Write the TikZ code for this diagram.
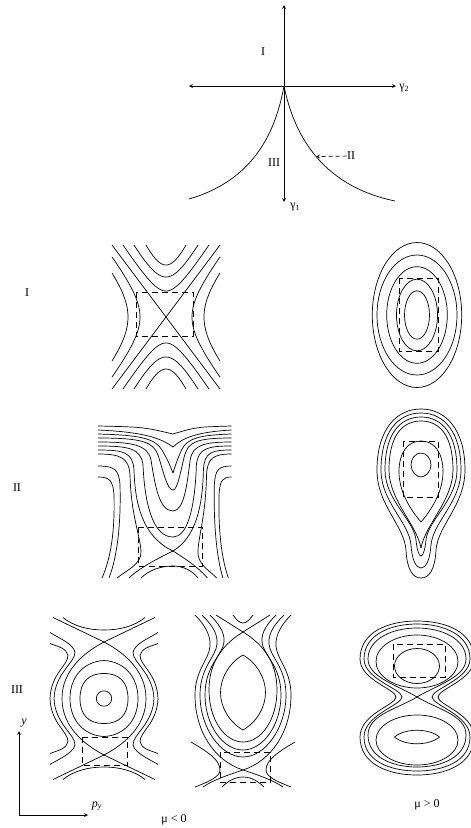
\documentclass[tikz,border=0pt]{standalone}
\usepackage{fontspec}
\setmainfont{Liberation Serif}
\begin{document}
\begin{tikzpicture}[x=1pt,y=-1pt,>=stealth,line width=0.7pt,
  box/.style={line width=0.7pt,dash pattern=on 6pt off 4pt},
  lab/.style={inner sep=0pt,font=\fontsize{12}{14}\selectfont}]
  \useasboundingbox (0,0) rectangle (471,828);
  % parameter plane
  \coordinate (g1a) at (284,5);
  \coordinate (g1b) at (284,202);
  \coordinate (g2a) at (189,86);
  \coordinate (g2b) at (396,86);
  \coordinate (o) at (284,86);
  \draw[<->] (g1a) -- (g1b);
  \draw[<->] (g2a) -- (g2b);
  \draw (o) .. controls (276,130) and (255,180) .. (189,199);
  \draw (o) .. controls (293,130) and (318,185) .. (395,201) coordinate[pos=0.52] (cusp);
  \node[lab,anchor=west] (g2) at (399,88) {γ\textsubscript{2}};
  \node[lab,anchor=north west] (g1) at (290,203) {γ\textsubscript{1}};
  \node[lab] (regI) at (263,52) {I};
  \node[lab] (regIII) at (274,163) {III};
  \node[lab] (regII) at (351,156) {II};
  \draw[->,dash pattern=on 4pt off 3pt] (regII) -- (cusp);
  % row labels
  \node[lab] (rowI) at (27,293) {I};
  \node[lab] (rowII) at (17,488) {II};
  \node[lab] (rowIII) at (17,690) {III};
  % row I, saddle
  \begin{scope}[shift={(166,317)}]
    \draw (-54,-72) -- (54,72);
    \draw (54,-72) -- (-54,72);
    \foreach \hv/\hb/\hd in {52/20.9/0.851, 40/21.4/1.193, 26/16.65/1.677}{
      \draw plot[domain=-\hd:\hd,samples=40] ({\hb*sinh(\x)},{-\hv*cosh(\x)});
      \draw plot[domain=-\hd:\hd,samples=40] ({\hb*sinh(\x)},{\hv*cosh(\x)});
    }
    \foreach \hv/\hb/\hd in {38/43.6/0.888, 26/33/1.360}{
      \draw plot[domain=-\hd:\hd,samples=40] ({-\hv*cosh(\x)},{\hb*sinh(\x)});
      \draw plot[domain=-\hd:\hd,samples=40] ({\hv*cosh(\x)},{\hb*sinh(\x)});
    }
    \draw[box] (-30,-25) rectangle (27,19);
  \end{scope}
  % row I, centre
  \foreach \rx/\ry in {44.7/72.5, 40/60, 30.3/48.3, 20.5/35.8, 12.5/24.2}
    \draw (417,315) ellipse [x radius=\rx, y radius=\ry];
  \draw[box] (399,278) rectangle (438,351);
  % row II, left
  \foreach \s in {1,-0.78}{
    \begin{scope}[shift={(173,500)},xscale=\s]
      \draw (-75,-74) .. controls (-30,-73) .. (0,-66);
      \draw (-75,-70) .. controls (-30,-68) and (-12,-62) .. (0,-53);
      \draw (-75,-66) .. controls (-35,-65) and (-18,-62) .. (-11,-50) .. controls (-5,-40) and (-2,-32) .. (0,-27);
      \draw (-75,-62) .. controls (-30,-62) and (-20,-58) .. (-15,-45) .. controls (-10,-30) and (-6,-10) .. (0,-10);
      \draw (-75,-58) .. controls (-40,-58) and (-25,-55) .. (-22,-40) .. controls (-18,-15) and (-14,11) .. (0,11);
      \draw (-75,-54) .. controls (-45,-54) and (-32,-52) .. (-30,-35) .. controls (-28,10) and (-18,37) .. (0,37);
      \draw (-75,-50) .. controls (-50,-50) and (-40,-48) .. (-39,-30) .. controls (-38,5) and (-30,37) .. (0,51);
      \draw (0,51) .. controls (-25,63) and (-38,72) .. (-44,78);
      \draw (-75,-46) .. controls (-52,-46) and (-44,-42) .. (-43,-25) .. controls (-42,15) and (-33,35) .. (-32,51) .. controls (-31,64) and (-46,70) .. (-56,78);
      \draw (-75,-34) .. controls (-58,-34) and (-54,-30) .. (-53,-15) .. controls (-52,20) and (-55,55) .. (-64,78);
      \draw (-75,-23) .. controls (-64,-23) and (-60,-20) .. (-59,-5) .. controls (-58,30) and (-62,58) .. (-71,78);
      \draw (0,66) .. controls (-12,66) and (-24,70) .. (-32,78);
    \end{scope}
  }
  \draw[box] (138,527) rectangle (202,566);
  % row II, right
  \foreach \s in {1,-1}{
    \begin{scope}[shift={(421,0)},xscale=\s]
      \draw (0,409) .. controls (-25,409) and (-44,430) .. (-44,470) .. controls (-44,505) and (-17,525) .. (-15,550) .. controls (-14,570) and (-8,578) .. (0,578);
      \draw (0,413) .. controls (-23,413) and (-40,432) .. (-40,470) .. controls (-40,502) and (-12,522) .. (-10,545) .. controls (-9,560) and (-5,568) .. (0,568);
      \draw (0,417) .. controls (-21,417) and (-36,434) .. (-36,470) .. controls (-36,500) and (-7,520) .. (-5,540) .. controls (-4,550) and (-2,556) .. (0,556);
      \draw (0,421) .. controls (-19,421) and (-32,436) .. (-32,470) .. controls (-32,500) and (-4,525) .. (0,548);
      \draw (0,441) .. controls (-13,441) and (-22,452) .. (-22,472) .. controls (-22,495) and (-6,515) .. (0,522);
      \draw (0,453) .. controls (-6,453) and (-10,459) .. (-10,465) .. controls (-10,472) and (-4,477) .. (0,477);
    \end{scope}
  }
  \draw[box] (403,441) rectangle (438,497);
  % row III, left
  \foreach \sx in {1,-1}{
    \foreach \sy in {1,-1}{
      \begin{scope}[shift={(104,698.5)},xscale=\sx,yscale=\sy]
        \draw (0,-25) .. controls (-16,-25) and (-24,-16) .. (-24,0);
        \draw (0,-38) .. controls (-20,-37) and (-34,-22) .. (-34,0);
        \draw (0,-56.5) .. controls (-20,-46) and (-42,-28) .. (-42,0);
        \draw (0,-56.5) -- (-51,-81);
        \draw (0,-68.5) .. controls (-15,-68.5) and (-30,-72) .. (-41,-81);
        \draw (-54,-66) .. controls (-44,-60) and (-30,-54) .. (-29,-46) .. controls (-29,-36) and (-49,-25) .. (-50,0);
        \draw (-54,-55) .. controls (-46,-52) and (-37,-50) .. (-36,-43) .. controls (-36,-33) and (-53,-25) .. (-54,0);
      \end{scope}
    }
  }
  \draw (104,698.5) circle [radius=7.7];
  \draw[box] (82,737) rectangle (127,765);
  % row III, middle
  \foreach \s in {1,-1}{
    \begin{scope}[shift={(243,700)},xscale=\s]
      \draw (0,-45) .. controls (-14,-37) and (-22.5,-22) .. (-22.5,-7.5) .. controls (-22.5,7) and (-14,22) .. (0,30);
      \draw (0,-68) .. controls (-18,-57) and (-34,-40) .. (-34,-10) .. controls (-34,20) and (-18,42) .. (0,42);
      \draw (0,-68) -- (-27,-85);
      \draw (0,-77) .. controls (-4,-77) and (-7,-81) .. (-10,-85);
      \draw (-33,-85) .. controls (-25,-77) and (-18,-68) .. (-19,-58) .. controls (-20,-45) and (-38,-35) .. (-38,-5) .. controls (-38,25) and (-20,50) .. (0,50);
      \draw (-41,-85) .. controls (-33,-77) and (-25,-68) .. (-26,-56) .. controls (-27,-43) and (-43,-33) .. (-43,-5) .. controls (-43,28) and (-22,57) .. (0,57);
      \draw (-48,-85) .. controls (-40,-77) and (-32,-66) .. (-33,-54) .. controls (-34,-40) and (-48,-30) .. (-48,-5) .. controls (-48,30) and (-30,60) .. (0,70);
      \draw (0,70) .. controls (-15,75) and (-30,80) .. (-40,87);
      \draw (-52,42) .. controls (-35,52) and (-23,60) .. (-23,70) .. controls (-23,77) and (-35,82) .. (-48,87);
      \draw (0,77) .. controls (-8,77) and (-15,81) .. (-21,87);
    \end{scope}
  }
  \draw[box] (220,752) rectangle (270,782);
  % row III, right
  \foreach \s in {1,-1}{
    \begin{scope}[shift={(417,697)},xscale=\s]
      \draw (0,0) .. controls (-20,-12) and (-49,-20) .. (-49,-38) .. controls (-49,-58) and (-25,-69) .. (0,-69);
      \draw (0,0) .. controls (-20,12) and (-49,18) .. (-49,38) .. controls (-49,60) and (-25,70) .. (0,70);
      \draw (0,-73) .. controls (-27,-73) and (-53,-62) .. (-53,-38) .. controls (-53,-18) and (-15,-8) .. (-15,0) .. controls (-15,8) and (-53,18) .. (-53,40) .. controls (-53,64) and (-27,74) .. (0,74);
      \draw (0,-76) .. controls (-29,-76) and (-57,-65) .. (-57,-38) .. controls (-57,-17) and (-21,-8) .. (-21,0) .. controls (-21,8) and (-57,17) .. (-57,40) .. controls (-57,67) and (-29,78) .. (0,78);
    \end{scope}
  }
  \draw (417,661.5) ellipse [x radius=41, y radius=26.5];
  \draw (417,666) ellipse [x radius=22.5, y radius=17.5];
  \draw (417,740) ellipse [x radius=41, y radius=25];
  \draw (394.5,737) .. controls (405,728) and (429,728) .. (439.5,737) .. controls (429,746) and (405,746) .. cycle;
  \draw[box] (393,644) rectangle (445,677);
  % axes and parameter signs
  \coordinate (ax0) at (19,815);
  \coordinate (axy) at (19,731);
  \coordinate (axp) at (88,815);
  \draw[->] (ax0) -- (axy);
  \draw[->] (ax0) -- (axp);
  \node[lab] (ylab) at (24,723) {\textit{y}};
  \node[lab] (plab) at (97,806) {\textit{p}\textsubscript{\textit{y}}};
  \node[lab] (muneg) at (174,820) {μ < 0};
  \node[lab] (mupos) at (427,805) {μ > 0};
\end{tikzpicture}
\end{document}
